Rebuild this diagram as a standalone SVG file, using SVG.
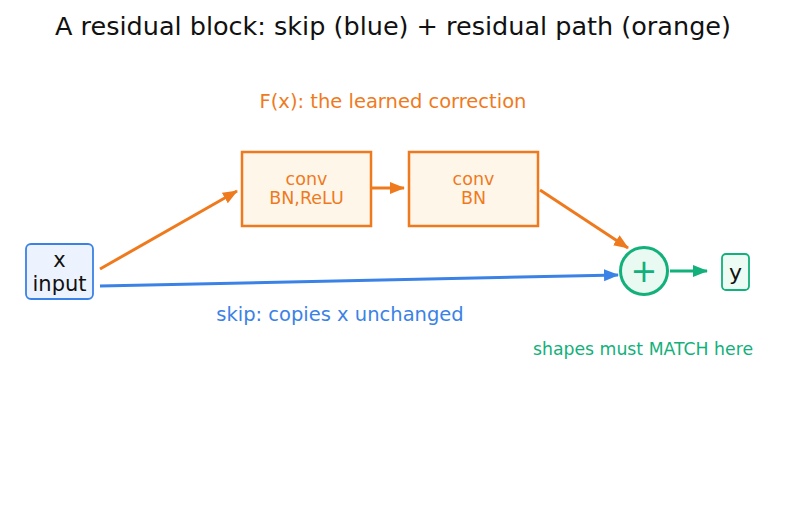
<svg xmlns="http://www.w3.org/2000/svg" width="787" height="512" viewBox="0 0 787 512">
<style>
text{font-family:"DejaVu Sans",sans-serif;text-anchor:middle}
.or{fill:#ef7a1d}
.bl{fill:#3b82e6}
.gr{fill:#12b07a}
.blk{fill:#111}
.box{fill:#fff6ea;stroke:#ef7a1d;stroke-width:2.5}
</style>
<defs>
<marker id="ab" markerWidth="15" markerHeight="14" refX="14" refY="7" orient="auto" markerUnits="userSpaceOnUse" viewBox="0 0 15 14"><path d="M0,1L15,7L0,13z" fill="#3b82e6"/></marker>
<marker id="ag" markerWidth="15" markerHeight="14" refX="14" refY="7" orient="auto" markerUnits="userSpaceOnUse" viewBox="0 0 15 14"><path d="M0,1L15,7L0,13z" fill="#12b07a"/></marker>
<marker id="ao2" markerWidth="15" markerHeight="14" refX="14" refY="7" orient="auto" markerUnits="userSpaceOnUse" viewBox="0 0 15 14"><path d="M0,1L15,7L0,13z" fill="#ef7a1d"/></marker>
</defs>
<rect width="787" height="512" fill="#fff"/>
<text x="393" y="35" font-size="25.5" class="blk">A residual block: skip (blue) + residual path (orange)</text>
<text x="393" y="108" font-size="19.5" class="or">F(x): the learned correction</text>
<g id="connectors" fill="none" stroke-width="3">
<line x1="100" y1="269" x2="237" y2="191" stroke="#ef7a1d" marker-end="url(#ao2)"/>
<line x1="372" y1="188" x2="404" y2="188" stroke="#ef7a1d" marker-end="url(#ao2)"/>
<line x1="540" y1="190" x2="628" y2="248" stroke="#ef7a1d" marker-end="url(#ao2)"/>
<line x1="100" y1="286" x2="618" y2="275" stroke="#3b82e6" marker-end="url(#ab)"/>
<line x1="670" y1="271" x2="707" y2="271" stroke="#12b07a" marker-end="url(#ag)"/>
</g>
<g id="input">
<rect x="26" y="244" width="67" height="55" rx="5" fill="#edf3fe" stroke="#3b82e6" stroke-width="1.8"/>
<text x="59.5" y="267" font-size="21" class="blk">x</text>
<text x="59.5" y="291" font-size="21" class="blk">input</text>
</g>
<g id="conv1">
<rect x="242" y="152" width="129" height="74" class="box"/>
<text x="306.5" y="185" font-size="17.5" class="or">conv</text>
<text x="306.5" y="204" font-size="17.5" class="or">BN,ReLU</text>
</g>
<g id="conv2">
<rect x="409" y="152" width="129" height="74" class="box"/>
<text x="473.5" y="185" font-size="17.5" class="or">conv</text>
<text x="473.5" y="204" font-size="17.5" class="or">BN</text>
</g>
<g id="add">
<circle cx="644" cy="271" r="23.5" fill="#e8faf1" stroke="#12b07a" stroke-width="3"/>
<text x="644" y="282" font-size="32" class="gr">+</text>
</g>
<g id="output">
<rect x="722" y="254" width="27" height="36" rx="4" fill="#ecfbf4" stroke="#12b07a" stroke-width="1.8"/>
<text x="735.5" y="280" font-size="22" class="blk">y</text>
</g>
<text x="340" y="321" font-size="19.5" class="bl">skip: copies x unchanged</text>
<text x="643" y="355" font-size="17.3" class="gr">shapes must MATCH here</text>
</svg>
